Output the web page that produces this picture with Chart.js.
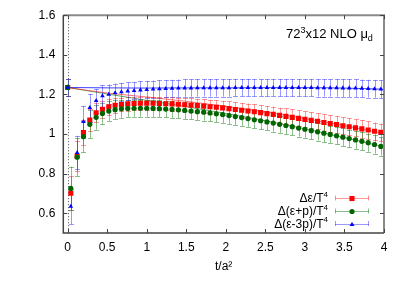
<!DOCTYPE html>
<html><head><meta charset="utf-8">
<script src="https://cdn.jsdelivr.net/npm/chart.js@4/dist/chart.umd.min.js"></script>
<style>html,body{margin:0;padding:0;background:#fff;overflow:hidden}#wrap{width:409px;height:286px}</style>
</head><body><div id="wrap"><canvas id="c" width="409" height="286"></canvas></div>
<script>
// ---- data ----
const tValues = [0,0.04,0.12,0.20,0.28,0.36,0.44,0.52,0.60,0.68,0.76,0.84,0.92,1.00,1.08,1.16,1.24,1.32,1.40,1.48,1.56,1.64,1.72,1.80,1.88,1.96,2.04,2.12,2.20,2.28,2.36,2.44,2.52,2.60,2.68,2.76,2.84,2.92,3.00,3.08,3.16,3.24,3.32,3.40,3.48,3.56,3.64,3.72,3.80,3.88,3.96];

const epsValues = [1.235,0.701,0.889,1.007,1.070,1.107,1.125,1.138,1.145,1.149,1.152,1.154,1.155,1.155,1.155,1.154,1.153,1.152,1.150,1.148,1.146,1.144,1.141,1.138,1.135,1.132,1.128,1.124,1.120,1.116,1.112,1.108,1.103,1.099,1.094,1.089,1.084,1.079,1.074,1.069,1.064,1.058,1.053,1.048,1.042,1.037,1.031,1.026,1.020,1.014,1.008];
const epsErrors = [0.045,0.085,0.075,0.065,0.055,0.048,0.043,0.040,0.037,0.035,0.034,0.033,0.033,0.033,0.033,0.033,0.033,0.034,0.034,0.034,0.035,0.035,0.035,0.036,0.036,0.036,0.037,0.037,0.037,0.038,0.038,0.038,0.039,0.039,0.039,0.040,0.040,0.040,0.041,0.041,0.041,0.042,0.042,0.042,0.043,0.043,0.043,0.044,0.044,0.044,0.045];

const enthValues = [1.235,0.725,0.883,0.987,1.049,1.084,1.104,1.116,1.123,1.127,1.129,1.130,1.130,1.130,1.129,1.128,1.126,1.124,1.122,1.119,1.116,1.113,1.110,1.106,1.102,1.098,1.093,1.088,1.083,1.078,1.072,1.067,1.061,1.055,1.049,1.043,1.037,1.030,1.024,1.017,1.011,1.004,0.998,0.991,0.984,0.977,0.970,0.963,0.956,0.947,0.937];
const enthErrors = [0.045,0.110,0.095,0.080,0.070,0.062,0.055,0.050,0.047,0.045,0.043,0.042,0.042,0.042,0.042,0.042,0.042,0.042,0.042,0.042,0.042,0.042,0.042,0.042,0.042,0.042,0.042,0.042,0.042,0.042,0.042,0.042,0.043,0.043,0.043,0.043,0.043,0.043,0.043,0.044,0.044,0.044,0.044,0.044,0.045,0.045,0.045,0.045,0.046,0.046,0.046];

const traceValues = [1.235,0.634,0.906,1.062,1.133,1.168,1.192,1.200,1.207,1.212,1.216,1.219,1.222,1.224,1.226,1.228,1.229,1.230,1.231,1.232,1.232,1.233,1.233,1.233,1.233,1.233,1.233,1.234,1.234,1.234,1.234,1.234,1.234,1.234,1.234,1.234,1.234,1.234,1.234,1.234,1.233,1.233,1.233,1.233,1.232,1.232,1.231,1.230,1.229,1.228,1.226];
const traceErrors = [0.045,0.090,0.085,0.080,0.070,0.060,0.055,0.050,0.048,0.046,0.045,0.044,0.044,0.044,0.044,0.044,0.044,0.044,0.044,0.044,0.044,0.044,0.044,0.044,0.044,0.044,0.044,0.044,0.044,0.044,0.044,0.044,0.044,0.044,0.044,0.044,0.044,0.044,0.044,0.044,0.044,0.044,0.044,0.044,0.045,0.045,0.045,0.045,0.045,0.045,0.045];

const fitT = [0,0.5,1,1.5,2,2.5,3,3.5,4];
const epsFit = [1.235,1.207,1.187,1.165,1.140,1.112,1.078,1.042,1.003];
const enthFit = [1.235,1.202,1.170,1.138,1.104,1.067,1.026,0.982,0.935];
const traceFit = [1.235,1.233,1.232,1.233,1.233,1.234,1.234,1.232,1.226];

const xTickValues = [0,0.5,1,1.5,2,2.5,3,3.5,4];
const xTickLabels = ['0','0.5','1','1.5','2','2.5','3','3.5','4'];
const yTickValues = [0.6,0.8,1.0,1.2,1.4,1.6];
const yTickLabels = ['0.6','0.8','1','1.2','1.4','1.6'];

const seriesNames = [
  [{t:'Δε/T'},{t:'4',sup:true}],
  [{t:'Δ(ε+p)/T'},{t:'4',sup:true}],
  [{t:'Δ(ε-3p)/T'},{t:'4',sup:true}]
];
const titleParts = [{t:'72'},{t:'3',sup:true},{t:'x12 NLO μ'},{t:'d',sub:true}];
const xTitle = 't/a²';

// ---- styles ----
const FONT = "'Liberation Sans', Arial, Helvetica, sans-serif";
Chart.defaults.font.family = FONT;
const series = [
  {vals:epsValues, errs:epsErrors, fit:epsFit, color:'#ff0000', bar:'rgba(255,50,50,0.5)', line:'rgba(255,0,0,0.55)', style:'rect', radius:3.6},
  {vals:enthValues, errs:enthErrors, fit:enthFit, color:'#006400', bar:'rgba(0,110,0,0.45)', line:'rgba(0,110,0,0.6)', style:'circle', radius:2.6},
  {vals:traceValues, errs:traceErrors, fit:traceFit, color:'#0000ff', bar:'rgba(50,50,255,0.5)', line:'rgba(0,0,255,0.75)', style:'triangle', radius:2.7}
];

function richWidth(ctx, parts, size){
  let w = 0;
  for (const p of parts){ ctx.font = ((p.sup||p.sub)? Math.round(size*0.68) : size) + 'px ' + FONT; w += ctx.measureText(p.t).width; }
  return w;
}
function drawRich(ctx, parts, x, y, size, align){
  let cx = align === 'right' ? x - richWidth(ctx, parts, size) : x;
  ctx.textBaseline = 'alphabetic'; ctx.textAlign = 'left';
  for (const p of parts){
    const s = (p.sup||p.sub)? Math.round(size*0.68) : size;
    ctx.font = s + 'px ' + FONT;
    const dy = p.sup ? -size*0.42 : (p.sub ? size*0.25 : 0);
    ctx.fillText(p.t, cx, y + dy);
    cx += ctx.measureText(p.t).width;
  }
}
function marker(ctx, style, x, y, r, color){
  ctx.fillStyle = color;
  ctx.beginPath();
  if (style === 'rect'){ const s = r/Math.SQRT2; ctx.rect(x-s, y-s, 2*s, 2*s); }
  else if (style === 'circle'){ ctx.arc(x, y, r, 0, Math.PI*2); }
  else { ctx.moveTo(x, y - r); ctx.lineTo(x + r*0.9, y + r*0.6); ctx.lineTo(x - r*0.9, y + r*0.6); ctx.closePath(); }
  ctx.fill();
}

const underlay = {
  id:'underlay',
  beforeDatasetsDraw(chart){
    const {ctx, chartArea:a, scales:{x, y}} = chart;
    ctx.save();
    ctx.beginPath(); ctx.rect(a.left, a.top, a.right-a.left, a.bottom-a.top); ctx.clip();
    const x0 = Math.round(x.getPixelForValue(0)) + 0.5;
    ctx.strokeStyle = '#555'; ctx.lineWidth = 1; ctx.setLineDash([1,2]);
    ctx.beginPath(); ctx.moveTo(x0, a.top); ctx.lineTo(x0, a.bottom); ctx.stroke();
    ctx.setLineDash([]);
    for (const s of series){
      ctx.strokeStyle = s.bar; ctx.lineWidth = 1;
      for (let i = 0; i < tValues.length; i++){
        const px = Math.round(x.getPixelForValue(tValues[i])) + 0.5;
        const y1 = y.getPixelForValue(s.vals[i] - s.errs[i]);
        const y2 = y.getPixelForValue(s.vals[i] + s.errs[i]);
        ctx.beginPath();
        ctx.moveTo(px, y1); ctx.lineTo(px, y2);
        ctx.moveTo(px-2.5, Math.round(y1)+0.5); ctx.lineTo(px+2.5, Math.round(y1)+0.5);
        ctx.moveTo(px-2.5, Math.round(y2)+0.5); ctx.lineTo(px+2.5, Math.round(y2)+0.5);
        ctx.stroke();
      }
    }
    ctx.restore();
  }
};

const overlay = {
  id:'overlay',
  afterDraw(chart){
    const {ctx, chartArea:a, scales:{x, y}} = chart;
    ctx.save();
    ctx.lineWidth = 2; ctx.strokeStyle = '#8a8a8a';
    ctx.beginPath(); ctx.moveTo(a.left, a.top); ctx.lineTo(a.right, a.top); ctx.lineTo(a.right, a.bottom); ctx.stroke();
    ctx.lineWidth = 1.5; ctx.strokeStyle = '#444';
    ctx.beginPath(); ctx.moveTo(a.left, a.top); ctx.lineTo(a.left, a.bottom); ctx.lineTo(a.right, a.bottom); ctx.stroke();
    ctx.lineWidth = 1; ctx.strokeStyle = '#444';
    ctx.beginPath();
    for (const v of xTickValues){
      const px = Math.round(x.getPixelForValue(v)) + 0.5;
      ctx.moveTo(px, a.bottom); ctx.lineTo(px, a.bottom - 4);
      ctx.moveTo(px, a.top); ctx.lineTo(px, a.top + 4);
    }
    for (const v of yTickValues){
      const py = Math.round(y.getPixelForValue(v)) + 0.5;
      ctx.moveTo(a.left, py); ctx.lineTo(a.left + 4, py);
      ctx.moveTo(a.right, py); ctx.lineTo(a.right - 4, py);
    }
    ctx.stroke();
    ctx.fillStyle = '#000';
    drawRich(ctx, titleParts, 286, 38, 13, 'left');
    const rows = [198, 211, 223.5];
    series.forEach((s, i) => {
      const ly = rows[i];
      ctx.fillStyle = '#000';
      drawRich(ctx, seriesNames[i], 328, ly + 4, 12, 'right');
      ctx.strokeStyle = s.bar; ctx.lineWidth = 1;
      ctx.beginPath();
      ctx.moveTo(335, Math.round(ly)+0.5); ctx.lineTo(369, Math.round(ly)+0.5);
      ctx.moveTo(335.5, ly-2.5); ctx.lineTo(335.5, ly+2.5);
      ctx.moveTo(368.5, ly-2.5); ctx.lineTo(368.5, ly+2.5);
      ctx.stroke();
      marker(ctx, s.style, 352, Math.round(ly)+0.5, s.radius, s.color);
    });
    ctx.restore();
  }
};

const pointSets = series.slice().reverse().map(s => ({
  data: tValues.map((t, i) => ({x:t, y:s.vals[i]})),
  showLine:false, pointStyle:s.style, pointRadius:s.radius, pointHoverRadius:s.radius,
  pointBackgroundColor:s.color, pointBorderWidth:0, borderWidth:0
}));
const fitSets = series.map(s => ({
  data: fitT.map((t, i) => ({x:t, y:s.fit[i]})),
  showLine:true, pointRadius:0, borderColor:s.line, borderWidth:1,
  cubicInterpolationMode:'monotone', fill:false
}));

new Chart(document.getElementById('c'), {
  type:'scatter',
  data:{datasets:[...pointSets, ...fitSets]},
  options:{
    responsive:false, animation:false, devicePixelRatio:1,
    layout:{padding:{top:15, right:25, left:0, bottom:0}},
    plugins:{legend:{display:false}, tooltip:{enabled:false}},
    scales:{
      x:{type:'linear', min:-0.055, max:4,
        grid:{display:false, drawTicks:false}, border:{display:false},
        afterBuildTicks(s){ s.ticks = xTickValues.map(v => ({value:v})); },
        afterFit(s){ s.height = 53; },
        ticks:{padding:7, color:'#000', font:{size:12}, maxRotation:0, autoSkip:false,
          callback:(v, i) => xTickLabels[i]},
        title:{display:true, text:xTitle, color:'#000', font:{size:12}, padding:{top:0, bottom:12}}
      },
      y:{type:'linear', min:0.5, max:1.6,
        grid:{display:false, drawTicks:false}, border:{display:false},
        afterBuildTicks(s){ s.ticks = yTickValues.map(v => ({value:v})); },
        afterFit(s){ s.width = 63.3; },
        ticks:{padding:8, color:'#000', font:{size:12}, autoSkip:false,
          callback:(v, i) => yTickLabels[i]}
      }
    }
  },
  plugins:[underlay, overlay]
});
</script>
</body></html>
